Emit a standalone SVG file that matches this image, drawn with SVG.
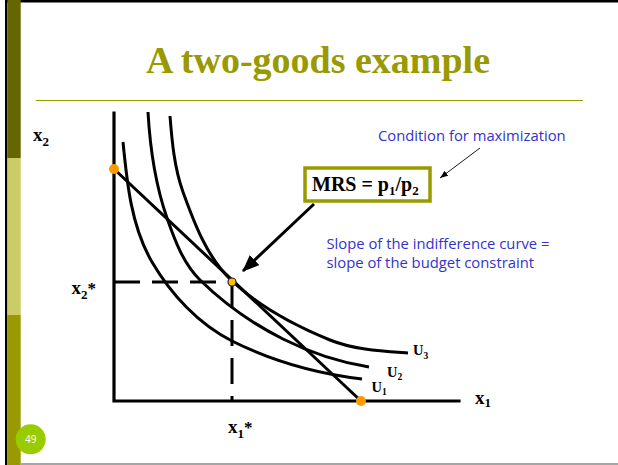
<svg xmlns="http://www.w3.org/2000/svg" width="618" height="465" viewBox="0 0 618 465">
<style>
.serif{font-family:"Liberation Serif","Times New Roman",serif;font-weight:bold;fill:#000}
.blue{font-family:"Open Sans","DejaVu Sans",sans-serif;font-size:14.8px;fill:#3333CC}
.curve{fill:none;stroke:#000;stroke-width:3;stroke-linecap:butt}
.axis{fill:none;stroke:#000;stroke-width:3.2;stroke-linecap:square}
.dash{fill:none;stroke:#000;stroke-width:3;stroke-dasharray:26 12}
</style>
<defs>
<marker id="ahThick" markerUnits="userSpaceOnUse" markerWidth="17" markerHeight="14" refX="16" refY="7" orient="auto">
<path d="M0,0 L17,7 L0,14 z" fill="#000"/>
</marker>
<marker id="ahThin" markerUnits="userSpaceOnUse" markerWidth="8" markerHeight="6" refX="8" refY="3" orient="auto">
<path d="M0,0 L8,3 L0,6 z" fill="#000"/>
</marker>
</defs>
<rect x="0" y="0" width="618" height="465" fill="#fff"/>
<g id="frame">
<rect x="5" y="0" width="613" height="2.5" fill="#000"/>
<rect x="5" y="0" width="2.4" height="465" fill="#000"/>
<rect x="7.4" y="0" width="13.3" height="158" fill="#666600"/>
<rect x="7.4" y="158" width="13.3" height="157" fill="#cccc66"/>
<rect x="7.4" y="315" width="13.3" height="150" fill="#999900"/>
<rect x="20.7" y="463" width="598" height="2" fill="#a6a6a6"/>
<line x1="36" y1="100.5" x2="583" y2="100.5" stroke="#999900" stroke-width="1"/>
</g>
<g id="title">
<text x="318" y="73" text-anchor="middle" style="font-family:'Liberation Serif','Times New Roman',serif;font-weight:bold;font-size:38px;fill:#999900">A two-goods example</text>
</g>
<g id="axes">
<polyline class="axis" points="114,113 114,401 459,401"/>
</g>
<g id="guides">
<line class="dash" x1="114" y1="282" x2="232" y2="282"/>
<line class="dash" x1="232" y1="282" x2="232" y2="401"/>
</g>
<g id="U1">
<path class="curve" d="M123,142 C127,183 131.3,226.6 152,262 C171,294.3 198.5,324.2 232,341 C272.2,361.1 317.3,373.7 362,379"/>
</g>
<g id="U2">
<path class="curve" d="M148,112 C150,147.8 155.2,184.1 167,218 C174.7,240.1 183.3,263.6 200,280 C224.2,303.7 252.7,323.8 283,339 C309.9,352.5 339.3,362.2 369,367"/>
</g>
<g id="U3">
<path class="curve" d="M170,116 C172,141.6 174.3,167.8 183,192 C194.5,223.9 207.3,257.8 232,281 C259.8,307.1 294.7,325.7 330,340 C354.5,349.9 381.7,351.1 408,353"/>
</g>
<g id="budget">
<line x1="114" y1="169" x2="361" y2="401" stroke="#000" stroke-width="3"/>
<circle cx="114" cy="169" r="5" fill="#ff9900"/>
<circle cx="361" cy="401" r="5" fill="#ff9900"/>
<circle cx="232" cy="282" r="4" fill="#ffc000" stroke="#222" stroke-width="1.2"/>
</g>
<g id="axis-labels">
<text class="serif" x="33" y="140.5" style="font-size:19px">x<tspan dy="5" style="font-size:13px">2</tspan></text>
<text class="serif" x="71.5" y="294" style="font-size:19px">x<tspan dy="4.5" style="font-size:13px">2</tspan><tspan dy="-4.5" style="font-size:17px">*</tspan></text>
<text class="serif" x="228" y="432.5" style="font-size:19px">x<tspan dy="5" style="font-size:13px">1</tspan><tspan dy="-5" style="font-size:17px">*</tspan></text>
<text class="serif" x="475" y="404" style="font-size:19px">x<tspan dy="3" style="font-size:13px">1</tspan></text>
</g>
<g id="curve-labels">
<text class="serif" x="413" y="355" style="font-size:14.5px">U<tspan dy="4" style="font-size:9.5px">3</tspan></text>
<text class="serif" x="387" y="376.5" style="font-size:14.5px">U<tspan dy="3" style="font-size:9.5px">2</tspan></text>
<text class="serif" x="371.5" y="391.5" style="font-size:14.5px">U<tspan dy="3" style="font-size:9.5px">1</tspan></text>
</g>
<g id="mrs-box">
<rect x="305" y="168" width="125" height="33" fill="#fff" stroke="#999900" stroke-width="3.5"/>
<text class="serif" x="312" y="190.5" style="font-size:20px">MRS = p<tspan dy="4" style="font-size:13px">1</tspan><tspan dy="-4">/p</tspan><tspan dy="4" style="font-size:13px">2</tspan></text>
</g>
<g id="condition-note">
<text class="blue" x="378" y="140.5">Condition for maximization</text>
</g>
<g id="slope-note">
<text class="blue" x="326.5" y="249">Slope of the indifference curve =</text>
<text class="blue" x="326.5" y="267.5">slope of the budget constraint</text>
</g>
<g id="connectors">
<line x1="314" y1="204" x2="243" y2="271" stroke="#000" stroke-width="3" marker-end="url(#ahThick)"/>
<line x1="480" y1="148" x2="440" y2="178" stroke="#000" stroke-width="0.9" marker-end="url(#ahThin)"/>
</g>
<g id="page-number">
<circle cx="30.7" cy="439.3" r="15" fill="#99cc00"/>
<text x="30.7" y="443" text-anchor="middle" style="font-family:'Open Sans','DejaVu Sans',sans-serif;font-size:10px;fill:#fff">49</text>
</g>
</svg>
